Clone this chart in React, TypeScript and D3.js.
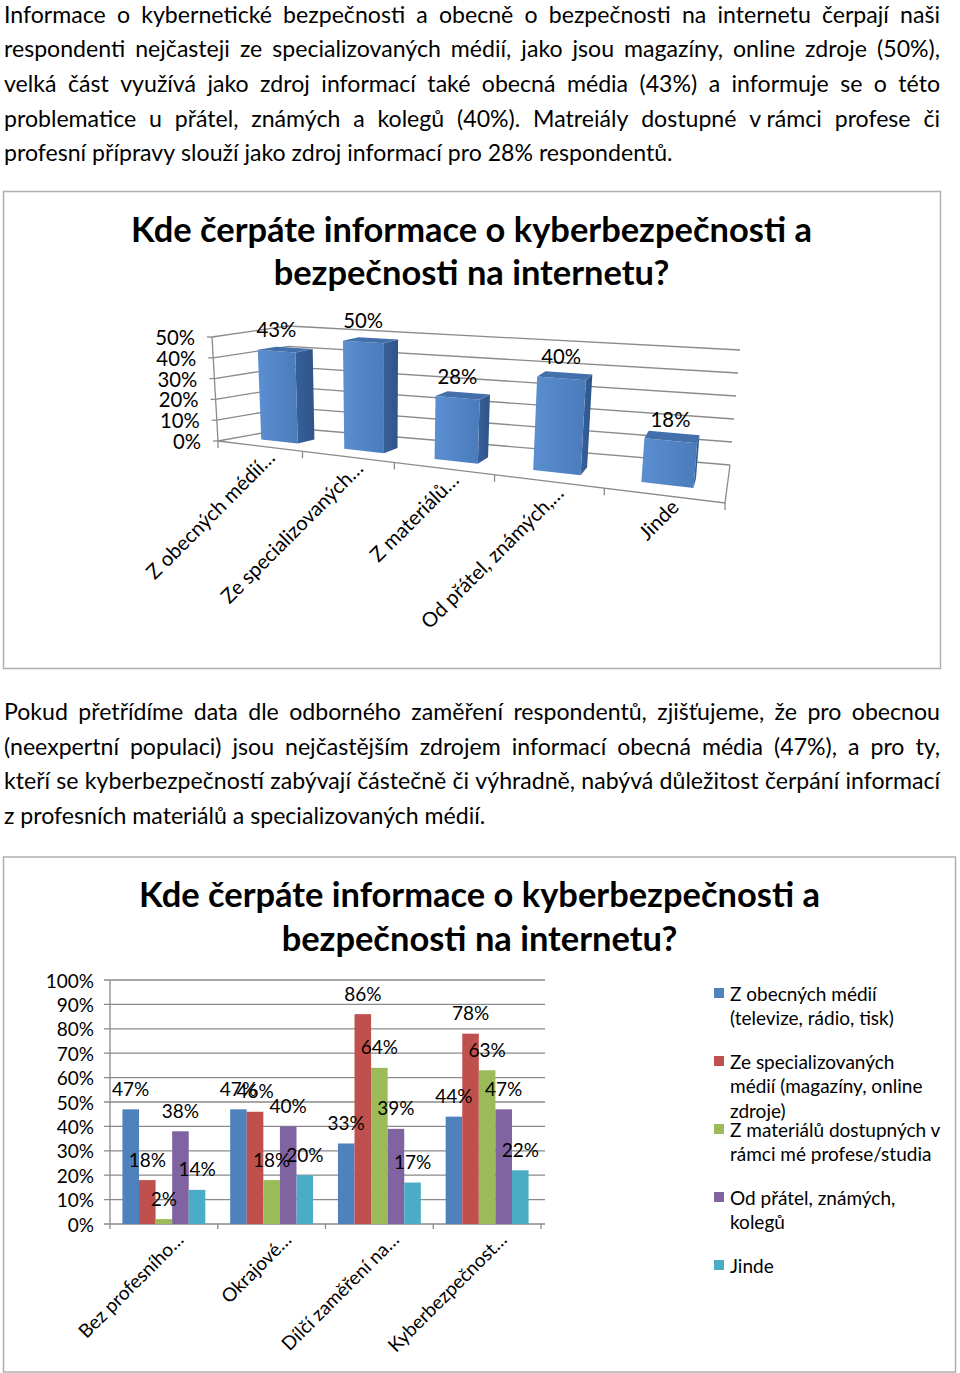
import React, { useMemo } from 'react';
import * as d3 from 'd3';

const FONT = 'Lato';

// ---- page text ----
const para1 = [
  'Informace o kybernetické bezpečnosti a obecně o bezpečnosti na internetu čerpají naši',
  'respondenti nejčasteji ze specializovaných médií, jako jsou magazíny, online zdroje (50%),',
  'velká část využívá jako zdroj informací také obecná média (43%) a informuje se o této',
  'problematice u přátel, známých a kolegů (40%). Matreiály dostupné v\u00a0rámci profese či',
  'profesní přípravy slouží jako zdroj informací pro 28% respondentů.',
];
const para2 = [
  'Pokud přetřídíme data dle odborného zaměření respondentů, zjišťujeme, že pro obecnou',
  '(neexpertní populaci) jsou nejčastějším zdrojem informací obecná média (47%), a pro ty,',
  'kteří se kyberbezpečností zabývají částečně či výhradně, nabývá důležitost čerpání informací',
  'z profesních materiálů a specializovaných médií.',
];
const titleLines = ['Kde čerpáte informace o kyberbezpečnosti a', 'bezpečnosti na internetu?'];

// ---- chart 1 (3D columns) ----
const sources = ['Z obecných médií…', 'Ze specializovaných…', 'Z materiálů…', 'Od přátel, známých,…', 'Jinde'];
const sourceShares = [0.43, 0.5, 0.28, 0.4, 0.18];
const ticks1 = [0, 0.1, 0.2, 0.3, 0.4, 0.5];

// ---- chart 2 (clustered columns) ----
const groups = ['Bez profesního…', 'Okrajové…', 'Dílčí zaměření na…', 'Kyberbezpečnost…'];
const seriesKeys = ['obecna', 'specializovana', 'materialy', 'pratele', 'jinde'];
const obecna = [0.47, 0.47, 0.33, 0.44];
const specializovana = [0.18, 0.46, 0.86, 0.78];
const materialy = [0.02, 0.18, 0.64, 0.63];
const pratele = [0.38, 0.4, 0.39, 0.47];
const jinde = [0.14, 0.2, 0.17, 0.22];
const seriesColors = ['#4F81BD', '#C0504D', '#9BBB59', '#8064A2', '#4BACC6'];
const legendLines = [
  ['Z obecných médií', '(televize, rádio, tisk)'],
  ['Ze specializovaných', 'médií (magazíny, online', 'zdroje)'],
  ['Z materiálů dostupných v', 'rámci mé profese/studia'],
  ['Od přátel, známých,', 'kolegů'],
  ['Jinde'],
];
const ticks2 = d3.range(0, 11).map((i) => i / 10);

let ctx: CanvasRenderingContext2D | null = null;
function textWidth(s: string, size: number, weight = 400) {
  if (!ctx) ctx = document.createElement('canvas').getContext('2d');
  if (!ctx) return s.length * size * 0.5;
  ctx.font = `${weight} ${size}px ${FONT}`;
  return ctx.measureText(s).width;
}
const fitSize = (s: string, target: number, weight = 400) => (20 * target) / textWidth(s, 20, weight);

type P = [number, number];
const lerp = (a: P, b: P, t: number): P => [a[0] + (b[0] - a[0]) * t, a[1] + (b[1] - a[1]) * t];

// corners of the 3D box on screen (front/back, bottom/top, left/right)
const FBL: P = [218, 441];
const FBR: P = [725, 503];
const BBL: P = [290, 428];
const BBR: P = [730, 465];
const FTL: P = [212, 337];
const FTR: P = [737, 373];
const BTL: P = [288, 326];
const BTR: P = [740, 350];
const warp = (u: number) => u / (u + 1.25 * (1 - u));

function project(u: number, t: number, w: number): P {
  const k = warp(u);
  const front = lerp(lerp(FBL, FBR, k), lerp(FTL, FTR, k), t);
  const back = lerp(lerp(BBL, BBR, k), lerp(BTL, BTR, k), t);
  return lerp(front, back, w);
}

function Justified({ lines, top, size }: { lines: string[]; top: number; size: number }) {
  const x0 = 4;
  const x1 = 940;
  return (
    <g fontSize={size} fill="#000">
      {lines.map((line, li) => {
        const words = line.split(' ');
        const widths = words.map((w) => textWidth(w, size));
        const last = li === lines.length - 1;
        const gap = last ? textWidth(' ', size) : (x1 - x0 - d3.sum(widths)) / (words.length - 1);
        let x = x0;
        return words.map((w, i) => {
          const el = (
            <text key={`${li}-${i}`} x={x} y={top + li * 34.7}>
              {w}
            </text>
          );
          x += widths[i] + gap;
          return el;
        });
      })}
    </g>
  );
}

const line = d3.line();
const poly = (pts: P[]) => line(pts) + 'Z';

function Chart3D({ small, titleSize }: { small: number; titleSize: number }) {
  const v = d3.scaleLinear().domain([0, 0.5]).range([0, 1]);
  const u = d3.scaleBand<string>().domain(sources).range([0, 1]).paddingInner(0.55).paddingOuter(0.275);
  const bw = u.bandwidth();
  const w0 = 0.3;
  const w1 = 0.56;
  const grid = '#8a8a8a';
  return (
    <g>
      <rect x={3.5} y={191.5} width={937} height={477} fill="#fff" stroke="#b0b0b0" strokeWidth={1.5} />
      {titleLines.map((t, i) => (
        <text key={t} x={471.5} y={242 + i * 43} textAnchor="middle" fontWeight={700} fontSize={titleSize}>
          {t}
        </text>
      ))}
      {/* walls */}
      {ticks1.map((d) => (
        <g key={d} stroke={grid} strokeWidth={1.3} fill="none">
          <path d={line([project(0, v(d), 0), project(0, v(d), 1), project(1, v(d), 1)]) || ''} />
          <line
            x1={project(0, v(d), 0)[0] - 5}
            y1={project(0, v(d), 0)[1]}
            x2={project(0, v(d), 0)[0]}
            y2={project(0, v(d), 0)[1]}
          />
        </g>
      ))}
      <g stroke={grid} strokeWidth={1.3} fill="none">
        <path d={line([project(0, 0, 0), project(0, 1, 0)]) || ''} />
        <path d={line([project(0, 0, 0), project(1, 0, 0), project(1, 0, 1)]) || ''} />
        {d3.range(0, 6).map((i) => {
          const p = project(i / 5, 0, 0);
          return <line key={i} x1={p[0]} y1={p[1]} x2={p[0]} y2={p[1] + 7} />;
        })}
      </g>
      {ticks1.map((d) => {
        const p = project(0, v(d), 0);
        return (
          <text key={d} x={p[0] - 17} y={p[1]} textAnchor="end" dominantBaseline="central" fontSize={small}>
            {`${Math.round(d * 100)}%`}
          </text>
        );
      })}
      {/* bars */}
      {sources.map((s, i) => {
        const a = u(s) || 0;
        const b = a + bw;
        const t = v(sourceShares[i]);
        const front = [project(a, 0, w0), project(b, 0, w0), project(b, t, w0), project(a, t, w0)] as P[];
        const side = [project(b, 0, w0), project(b, 0, w1), project(b, t, w1), project(b, t, w0)] as P[];
        const top = [project(a, t, w0), project(b, t, w0), project(b, t, w1), project(a, t, w1)] as P[];
        const lab = project(a + bw / 2, t, w0);
        return (
          <g key={s}>
            <path d={poly(side)} fill="url(#side3d)" />
            <path d={poly(front)} fill="url(#front3d)" />
            <path d={poly(top)} fill="#4370aa" />
            <text x={lab[0]} y={lab[1] - 22} textAnchor="middle" dominantBaseline="central" fontSize={small}>
              {`${Math.round(sourceShares[i] * 100)}%`}
            </text>
          </g>
        );
      })}
      {sources.map((s, i) => {
        const p = project((i + 0.5) / 5, 0, 0);
        return (
          <text
            key={s}
            transform={`translate(${p[0] + 17},${p[1] + 13}) rotate(-45)`}
            textAnchor="end"
            fontSize={small}
          >
            {s}
          </text>
        );
      })}
    </g>
  );
}

function Clustered({ small, titleSize }: { small: number; titleSize: number }) {
  const values: Record<string, number[]> = { obecna, specializovana, materialy, pratele, jinde };
  const y = d3.scaleLinear().domain([0, 1]).range([1224, 980]);
  const x = d3.scaleBand<string>().domain(groups).range([110, 541]);
  const xs = d3.scaleBand<string>().domain(seriesKeys).range([0, x.bandwidth()]).paddingOuter(0.75);
  const grid = '#8a8a8a';
  return (
    <g>
      <rect x={3.5} y={857} width={952} height={515} fill="#fff" stroke="#b0b0b0" strokeWidth={1.5} />
      {titleLines.map((t, i) => (
        <text key={t} x={479.5} y={907 + i * 44} textAnchor="middle" fontWeight={700} fontSize={titleSize}>
          {t}
        </text>
      ))}
      <g stroke={grid} strokeWidth={1.3}>
        {ticks2.map((d) => (
          <line key={d} x1={104} x2={545} y1={y(d)} y2={y(d)} />
        ))}
        <line x1={110} x2={110} y1={y(1)} y2={y(0)} />
        {d3.range(0, 5).map((i) => {
          const xx = 110 + i * x.step();
          return <line key={i} x1={xx} x2={xx} y1={y(0)} y2={y(0) + 5} />;
        })}
      </g>
      {ticks2.map((d) => (
        <text key={d} x={94} y={y(d)} textAnchor="end" dominantBaseline="central" fontSize={small}>
          {`${Math.round(d * 100)}%`}
        </text>
      ))}
      {groups.map((g, gi) => (
        <g key={g} transform={`translate(${x(g)},0)`}>
          {seriesKeys.map((k, si) => {
            const val = values[k][gi];
            return (
              <rect
                key={k}
                x={xs(k)}
                y={y(val)}
                width={xs.bandwidth()}
                height={y(0) - y(val)}
                fill={seriesColors[si]}
              />
            );
          })}
          {seriesKeys.map((k) => {
            const val = values[k][gi];
            return (
              <text
                key={k}
                x={(xs(k) || 0) + xs.bandwidth() / 2}
                y={y(val) - 21}
                textAnchor="middle"
                dominantBaseline="central"
                fontSize={small}
              >
                {`${Math.round(val * 100)}%`}
              </text>
            );
          })}
        </g>
      ))}
      {groups.map((g) => {
        const cx = (x(g) || 0) + x.bandwidth() / 2;
        return (
          <text
            key={g}
            transform={`translate(${cx + 21},${1241}) rotate(-45)`}
            textAnchor="end"
            fontSize={small}
          >
            {g}
          </text>
        );
      })}
      {legendLines.map((lines, i) => {
        const cy = 993 + i * 68;
        return (
          <g key={i}>
            <rect x={714} y={cy - 5} width={10} height={10} fill={seriesColors[i]} />
            {lines.map((l, j) => (
              <text key={l} x={730} y={cy + j * 24.5} dominantBaseline="central" fontSize={small}>
                {l}
              </text>
            ))}
          </g>
        );
      })}
    </g>
  );
}

export default function App() {
  const sizes = useMemo(
    () => ({
      para: fitSize(para1[4], 669),
      title: fitSize(titleLines[0], 681, 700),
      small1: fitSize(sources[0], 172),
      small2: fitSize(legendLines[2][0], 211),
    }),
    []
  );
  return (
    <svg
      width={960}
      height={1373}
      viewBox="0 0 960 1373"
      style={{ position: 'absolute', left: 0, top: 0, display: 'block' }}
      fontFamily={FONT}
    >
      <defs>
        <linearGradient id="front3d" x1="0" x2="1" y1="0" y2="0">
          <stop offset="0" stopColor="#5b8fd1" />
          <stop offset="1" stopColor="#4a7bbb" />
        </linearGradient>
        <linearGradient id="side3d" x1="0" x2="1" y1="0" y2="0">
          <stop offset="0" stopColor="#37609a" />
          <stop offset="1" stopColor="#2f5488" />
        </linearGradient>
      </defs>
      <rect width={960} height={1373} fill="#fff" />
      <Justified lines={para1} top={22.5} size={sizes.para} />
      <Chart3D small={sizes.small1} titleSize={sizes.title} />
      <Justified lines={para2} top={720} size={sizes.para} />
      <Clustered small={sizes.small2} titleSize={sizes.title} />
    </svg>
  );
}
